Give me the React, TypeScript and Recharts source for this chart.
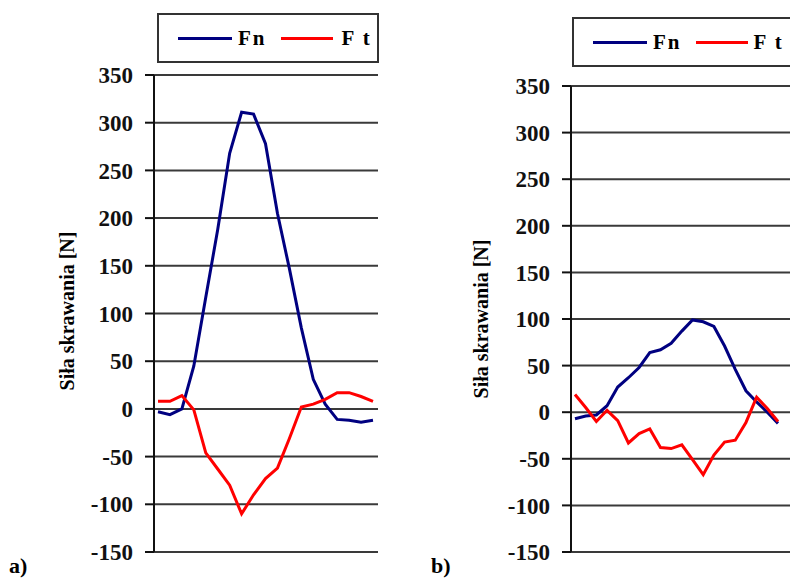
import { LineChart, Line, XAxis, YAxis, CartesianGrid } from 'recharts';

// wartości (siła skrawania, N)
const fnA = [-3, -6, 0, 45, 117, 188, 268, 311, 309, 278, 205, 147, 85, 31, 5, -11, -12, -14, -12];
const ftA = [8, 8, 14, -1, -46, -63, -80, -110, -90, -73, -62, -31, 2, 5, 10, 17, 17, 13, 8];

const fnB = [-7, -4, -3, 7, 27, 37, 48, 64, 67, 74, 87, 99, 97, 92, 71, 46, 23, 11, 0, -12];
const ftB = [19, 5, -10, 2, -9, -33, -23, -18, -38, -39, -35, -51, -67, -46, -32, -30, -11, 16, 4, -10];

const yTicks = [-150, -100, -50, 0, 50, 100, 150, 200, 250, 300, 350];
const yLabel = 'Siła skrawania [N]';

const toRows = (fn: number[], ft: number[]) => fn.map((v, i) => ({ i, fn: v, ft: ft[i] }));

const serif = 'Liberation Serif, Times New Roman, serif';

function Legend({ left, top, width, gap }: { left: number; top: number; width: number; gap: number }) {
  return (
    <div
      style={{
        position: 'absolute',
        left,
        top,
        width,
        height: 50,
        border: '2px solid #333',
        boxSizing: 'border-box',
        display: 'flex',
        alignItems: 'center',
        paddingLeft: 19,
        fontFamily: serif,
        fontWeight: 'bold',
        fontSize: 21,
        whiteSpace: 'nowrap',
        overflow: 'hidden',
      }}
    >
      <span style={{ display: 'inline-block', width: 54, height: 3, background: '#000080' }} />
      <span style={{ marginLeft: 6, letterSpacing: 2 }}>Fn</span>
      <span style={{ display: 'inline-block', width: 52, height: 3, background: '#ff0000', marginLeft: 14 }} />
      <span style={{ marginLeft: gap, letterSpacing: 2 }}>F t</span>
    </div>
  );
}

function Panel({
  fn,
  ft,
  left,
  width,
  top,
  bottom,
  axisX,
  padL,
  padR,
  border,
}: {
  fn: number[];
  ft: number[];
  left: number;
  width: number;
  top: number;
  bottom: number;
  axisX: number;
  padL: number;
  padR: number;
  border: boolean;
}) {
  const data = toRows(fn, ft);
  return (
    <div style={{ position: 'absolute', left, top: 0 }}>
      <LineChart width={width} height={579} data={data} margin={{ top, bottom: 579 - bottom, left: 0, right: 0 }}>
        <CartesianGrid vertical={false} stroke="#3a3a3a" strokeWidth={2} />
        <XAxis dataKey="i" hide padding={{ left: padL, right: padR }} />
        <YAxis
          domain={[-150, 350]}
          ticks={yTicks}
          width={axisX}
          interval={0}
          tickSize={9}
          tickMargin={12}
          axisLine={{ stroke: '#111', strokeWidth: 2 }}
          tickLine={{ stroke: '#111', strokeWidth: 2 }}
          tick={{ fill: '#111', fontSize: 23, fontWeight: 'bold', fontFamily: serif }}
        />
        {border && (
          <YAxis
            yAxisId="r"
            orientation="right"
            width={0}
            tick={false}
            tickLine={false}
            axisLine={{ stroke: '#b0b0b0', strokeWidth: 2 }}
          />
        )}
        <Line type="linear" dataKey="fn" stroke="#000080" strokeWidth={3} dot={false} isAnimationActive={false} />
        <Line type="linear" dataKey="ft" stroke="#ff0000" strokeWidth={3} dot={false} isAnimationActive={false} />
      </LineChart>
    </div>
  );
}

function AxisTitle({ cx, cy }: { cx: number; cy: number }) {
  return (
    <div
      style={{
        position: 'absolute',
        left: cx - 100,
        top: cy - 12,
        width: 200,
        height: 24,
        lineHeight: '24px',
        textAlign: 'center',
        transform: 'rotate(-90deg)',
        fontFamily: serif,
        fontWeight: 'bold',
        fontSize: 20,
        whiteSpace: 'nowrap',
      }}
    >
      {yLabel}
    </div>
  );
}

function Tag({ x, text }: { x: number; text: string }) {
  return (
    <div style={{ position: 'absolute', left: x, top: 553, fontFamily: serif, fontWeight: 'bold', fontSize: 22 }}>
      {text}
    </div>
  );
}

export default function App() {
  return (
    <div
      style={{
        position: 'absolute',
        left: 0,
        top: 0,
        width: 790,
        height: 579,
        background: '#fff',
        overflow: 'hidden',
      }}
    >
      {/* a) */}
      <Legend left={157} top={13} width={222} gap={9} />
      <Panel fn={fnA} ft={ftA} left={0} width={378} top={75} bottom={552} axisX={154} padL={4} padR={5} border />
      <AxisTitle cx={67} cy={311} />
      <Tag x={9} text="a)" />

      {/* b) */}
      <Legend left={572} top={17} width={240} gap={6} />
      <Panel fn={fnB} ft={ftB} left={420} width={370} top={86} bottom={552} axisX={151} padL={4} padR={12} border={false} />
      <AxisTitle cx={481} cy={319} />
      <Tag x={431} text="b)" />
    </div>
  );
}
